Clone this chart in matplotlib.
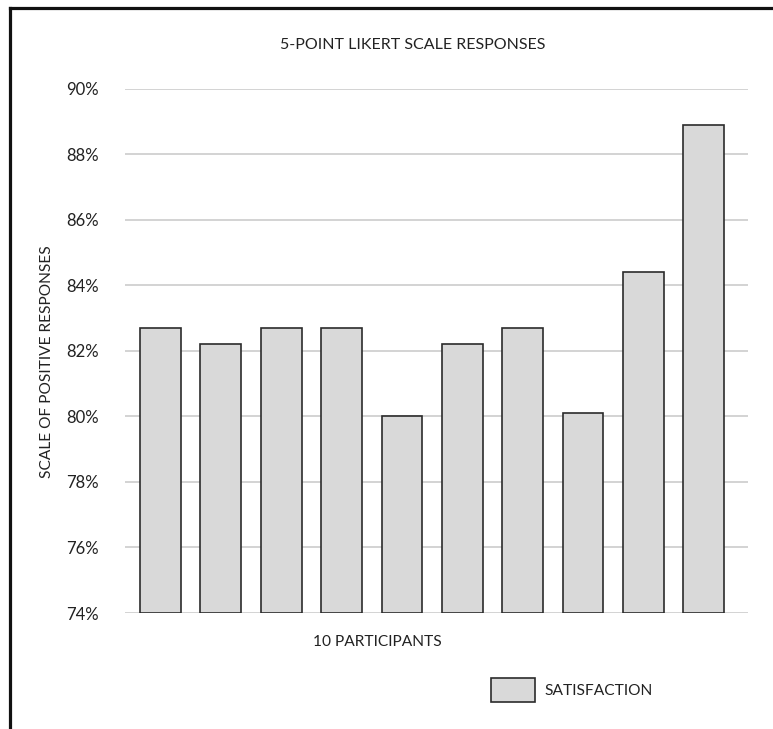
import matplotlib
matplotlib.use("Agg")
import matplotlib.pyplot as plt
from matplotlib.lines import Line2D
import numpy as np

participants = [f"P{i}" for i in range(1, 11)]
satisfaction = [82.7, 82.2, 82.7, 82.7, 80.0, 82.2, 82.7, 80.1, 84.4, 88.9]
y_ticks = [74, 76, 78, 80, 82, 84, 86, 88, 90]
y_tick_labels = [f"{v}%" for v in y_ticks]

title = "5-POINT LIKERT SCALE RESPONSES"
y_label = "SCALE OF POSITIVE RESPONSES"
x_label = "10 PARTICIPANTS"
series_label = "SATISFACTION"

plt.rcParams['font.family'] = ['Lato', 'DejaVu Sans']

W, H = 773, 729
fig = plt.figure(figsize=(W / 100, H / 100), dpi=100)
left, right = 125 / W, 748 / W
bottom, top = 1 - 613 / H, 1 - 88.7 / H
ax = fig.add_axes([left, bottom, right - left, top - bottom])

x = np.arange(len(participants))
base = y_ticks[0]
heights = [v - base for v in satisfaction]
bars = ax.bar(x, heights, bottom=base, width=0.676, color="#d9d9d9",
              edgecolor="#2b2b2b", linewidth=1.2, label=series_label, zorder=3)

ax.set_ylim(y_ticks[0], y_ticks[-1])
ax.set_xlim(-0.588, len(participants) - 1 + 0.732)
ax.set_yticks(y_ticks)
ax.set_yticklabels(y_tick_labels, fontsize=12, color="#222222")
ax.set_xticks([])
ax.tick_params(axis="y", length=0, pad=19)
ax.grid(axis="y", color="#d3d3d3", linewidth=1.4, zorder=0)
for s in ax.spines.values():
    s.set_visible(False)

fig.text(413 / W, 1 - 45 / H, title, ha="center", va="center", fontsize=11.5, color="#222222")
fig.text(47 / W, 1 - 362 / H, y_label, ha="center", va="center", rotation=90,
         fontsize=11.2, color="#222222")
fig.text(377.8 / W, 1 - 642 / H, x_label, ha="center", va="center", fontsize=11.2, color="#222222")

leg = fig.legend(handles=[bars], labels=[series_label], loc="center left",
                 bbox_to_anchor=(490.7 / W, 1 - 690 / H), bbox_transform=fig.transFigure,
                 frameon=False, fontsize=11.2, handlelength=2.83, handleheight=2.05,
                 handletextpad=0.6, borderpad=0, borderaxespad=0, labelcolor="#222222")

fig.add_artist(Line2D([9.5 / W, 9.5 / W], [0, 1 - 7.5 / H], transform=fig.transFigure,
                      color="#111111", linewidth=2.3, solid_capstyle="projecting"))
fig.add_artist(Line2D([9.5 / W, 1], [1 - 7.5 / H, 1 - 7.5 / H], transform=fig.transFigure,
                      color="#111111", linewidth=2.3, solid_capstyle="projecting"))

fig.savefig("out.png", dpi=100)
